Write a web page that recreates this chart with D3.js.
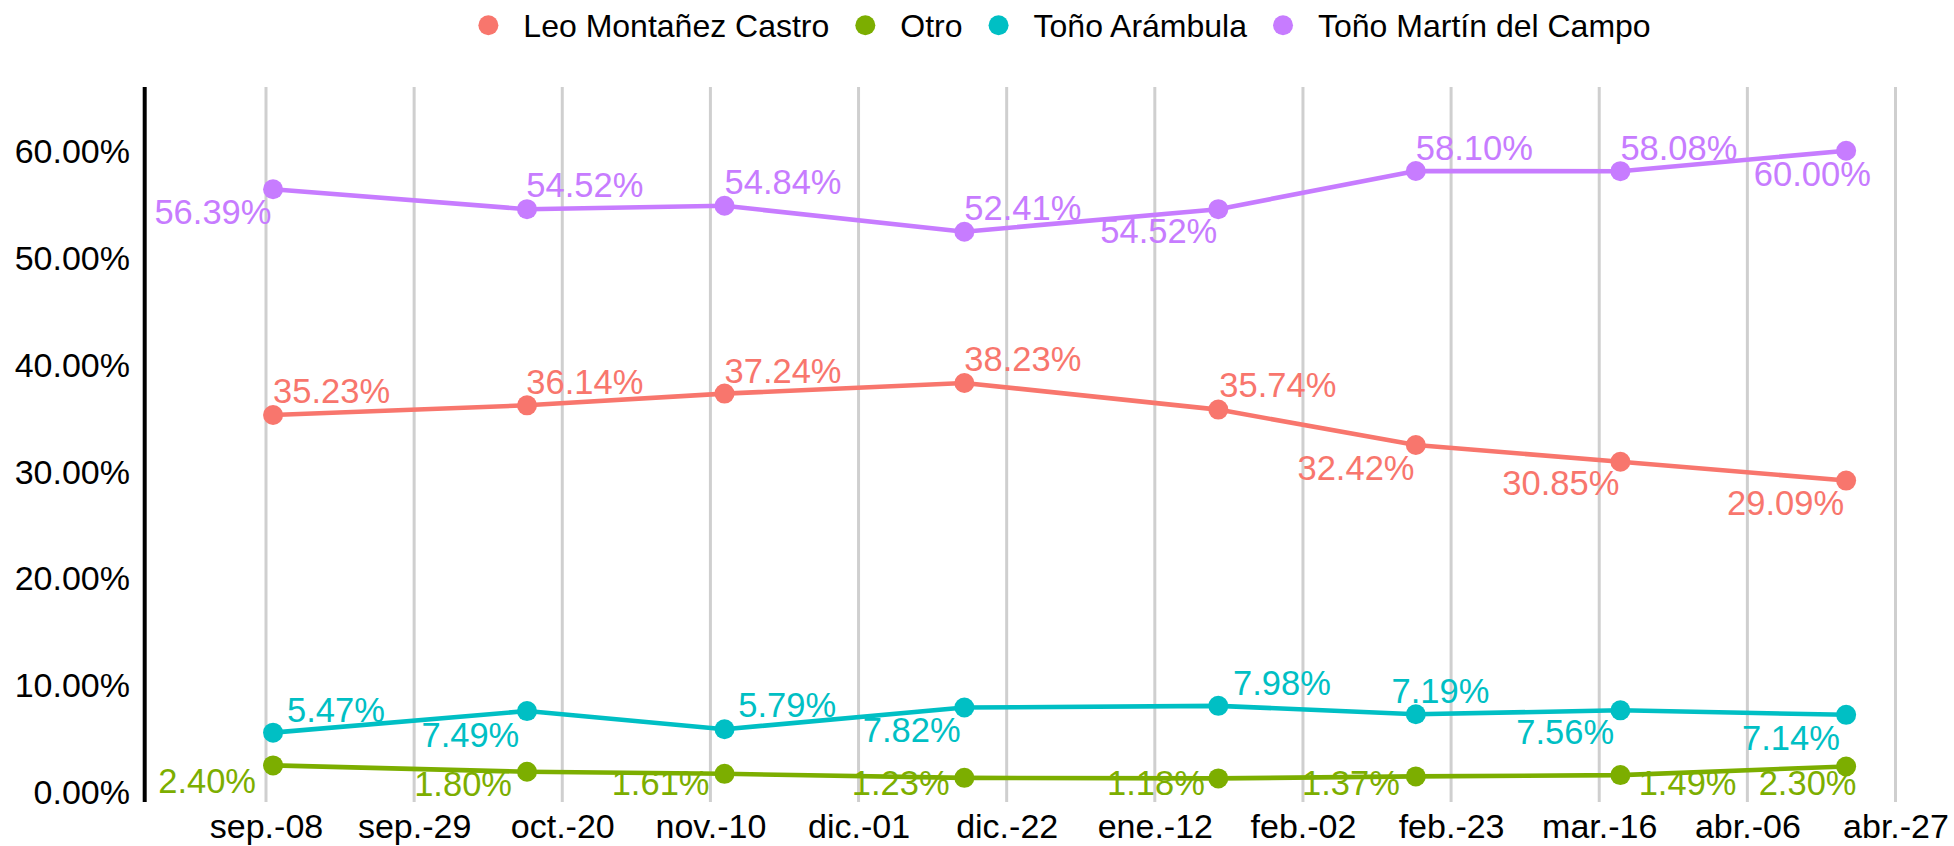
<!DOCTYPE html>
<html><head><meta charset="utf-8">
<script src="https://cdn.jsdelivr.net/npm/d3@7"></script>
<style>
body{margin:0;background:#fff}
svg{display:block}
text{font-family:"Liberation Sans",Arial,Helvetica,sans-serif}
</style>
</head><body>
<svg id="chart" width="1954" height="846"></svg>
<script>
// ---------- data ----------
const surveyDates = ["2022-09-09","2022-10-15","2022-11-12","2022-12-16","2023-01-21","2023-02-18","2023-03-19","2023-04-20"];
const seriesNames = ["Leo Montañez Castro","Otro","Toño Arámbula","Toño Martín del Campo"];
const leoValues    = [35.23,36.14,37.24,38.23,35.74,32.42,30.85,29.09];
const otroValues   = [2.40,1.80,1.61,1.23,1.18,1.37,1.49,2.30];
const arambulaValues = [5.47,7.49,5.79,7.82,7.98,7.19,7.56,7.14];
const martinValues = [56.39,54.52,54.84,52.41,54.52,58.10,58.08,60.00];
const xTickDates  = ["2022-09-08","2022-09-29","2022-10-20","2022-11-10","2022-12-01","2022-12-22","2023-01-12","2023-02-02","2023-02-23","2023-03-16","2023-04-06","2023-04-27"];
const xTickLabels = ["sep.-08","sep.-29","oct.-20","nov.-10","dic.-01","dic.-22","ene.-12","feb.-02","feb.-23","mar.-16","abr.-06","abr.-27"];
const yTickValues = [0,10,20,30,40,50,60];
const yTickLabels = ["0.00%","10.00%","20.00%","30.00%","40.00%","50.00%","60.00%"];

// ---------- styling / layout (not data) ----------
const seriesColors = ["#F8766D","#7CAE00","#00BFC4","#C77CFF"];
// label placement (repelled labels): [anchor, dx, dy] relative to each point
const labelLayout = [
  [["s",0,-11.6],["s",-0.7,-11.7],["s",0,-11],["s",0,-12],["s",1,-12.7],["e",-1.3,35],["e",-1,33.3],["e",-2,34]],
  [["e",-17,27.3],["e",-15,24],["e",-15,21.6],["e",-14.7,17.3],["e",-13.4,16.6],["e",-16,18.3],["s",18.3,20],["e",10.4,28.3]],
  [["s",14,-11],["e",-7.7,35.7],["s",13.8,-12.3],["e",-3.7,34.7],["s",14.7,-11],["s",-24.3,-11.6],["e",-6.3,34],["e",-6.3,35]],
  [["e",-1.6,35],["s",-0.7,-12.3],["s",0,-11.7],["s",0,-11.7],["e",-1,34],["s",0,-10.7],["s",0,-11.4],["e",24.7,35]]
];

const parse = d3.utcParse("%Y-%m-%d");
const seriesValues = [leoValues, otroValues, arambulaValues, martinValues];
const series = seriesNames.map((name,i)=>({
  name, color: seriesColors[i], labels: labelLayout[i],
  points: surveyDates.map((d,j)=>({date: parse(d), value: seriesValues[i][j]}))
}));

const svg = d3.select("#chart");
const panelTop = 87, panelBottom = 802, axisX = 144.7;

const x = d3.scaleUtc()
  .domain([parse(xTickDates[0]), parse(xTickDates[xTickDates.length-1])])
  .range([266, 1895.5]);
const y = d3.scaleLinear().domain([0,60]).range([791,150.7]);

// vertical gridlines
svg.append("g").selectAll("line").data(xTickDates).join("line")
  .attr("x1",d=>x(parse(d))).attr("x2",d=>x(parse(d)))
  .attr("y1",panelTop).attr("y2",panelBottom)
  .attr("stroke","#cfcfcf").attr("stroke-width",3);

// y axis line
svg.append("line").attr("x1",axisX).attr("x2",axisX)
  .attr("y1",panelTop).attr("y2",panelBottom)
  .attr("stroke","#000").attr("stroke-width",4);

// y tick labels
const yAxis = d3.axisLeft(y).tickValues(yTickValues)
  .tickFormat((d,i)=>yTickLabels[i]).tickSize(0).tickPadding(0);
const gy = svg.append("g").attr("transform","translate(130,0)").call(yAxis);
gy.select(".domain").remove();
gy.selectAll("text").attr("font-size",34).attr("fill","#000")
  .attr("font-family","Liberation Sans, Arial, sans-serif").attr("dy","0.36em");

// x tick labels
const xAxis = d3.axisBottom(x).tickValues(xTickDates.map(parse))
  .tickFormat((d,i)=>xTickLabels[i]).tickSize(0).tickPadding(0);
const gx = svg.append("g").attr("transform","translate(0,837.5)").call(xAxis);
gx.select(".domain").remove();
gx.selectAll("text").attr("font-size",34).attr("fill","#000")
  .attr("font-family","Liberation Sans, Arial, sans-serif").attr("dy",0).attr("y",0);

// lines
const line = d3.line().x(d=>x(d.date)).y(d=>y(d.value));
svg.append("g").selectAll("path").data(series).join("path")
  .attr("d",d=>line(d.points)).attr("fill","none")
  .attr("stroke",d=>d.color).attr("stroke-width",4.6)
  .attr("stroke-linejoin","round").attr("stroke-linecap","butt");

// points
series.forEach(s=>{
  svg.append("g").selectAll("circle").data(s.points).join("circle")
    .attr("cx",d=>x(d.date)).attr("cy",d=>y(d.value)).attr("r",10)
    .attr("fill",s.color);
});

// labels
series.forEach(s=>{
  svg.append("g").selectAll("text").data(s.points).join("text")
    .attr("x",(d,j)=>x(d.date)+s.labels[j][1])
    .attr("y",(d,j)=>y(d.value)+s.labels[j][2])
    .attr("text-anchor",(d,j)=>s.labels[j][0]==="s"?"start":"end")
    .attr("font-size",34.5).attr("fill",s.color)
    .text(d=>d.value.toFixed(2)+"%");
});

// legend
const lg = svg.append("g");
let cx = 0;
series.forEach(s=>{
  const g = lg.append("g");
  g.append("circle").attr("cx",cx).attr("cy",25.3).attr("r",10).attr("fill",s.color);
  const t = g.append("text").attr("x",cx+35).attr("y",36.5).attr("font-size",32)
    .attr("fill","#000").text(s.name);
  const w = t.node().getComputedTextLength();
  cx = cx + 35 + w + 36;
});
const legendLeft = -10, legendRight = cx - 36;
const legendCenter = 1064.5;
lg.attr("transform",`translate(${legendCenter-(legendLeft+legendRight)/2},0)`);
</script>
</body></html>
